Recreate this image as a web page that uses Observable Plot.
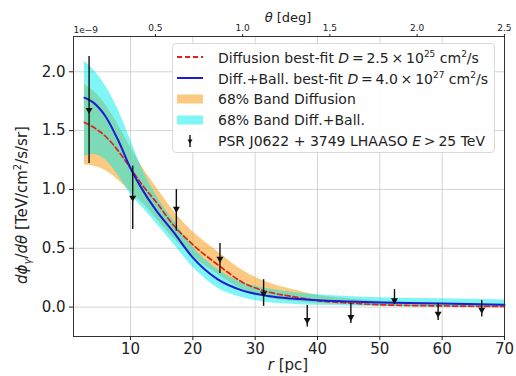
<!DOCTYPE html>
<html>
<head>
<meta charset="utf-8">
<script src="https://cdn.jsdelivr.net/npm/d3@7"></script>
<script src="https://cdn.jsdelivr.net/npm/@observablehq/plot@0.6"></script>
<style>
  html, body { margin: 0; padding: 0; background: #fff; }
  #wrap { position: relative; width: 516px; height: 376px; font-family: "DejaVu Sans", sans-serif; color: #222; }
  #legend { position: absolute; left: 172px; top: 43px; width: 323px; height: 110px; box-sizing: border-box;
            border: 1px solid #d9d9d9; border-radius: 4px; background: rgba(255,255,255,0.88); }
  .row { position: absolute; left: 0; height: 20px; display: flex; align-items: center; font-size: 14px; white-space: nowrap; }
  .row svg { margin-left: 3px; margin-right: 14px; }
  .lbl { position: absolute; white-space: nowrap; color: #222; }
</style>
</head>
<body>
<div id="wrap">
  <div id="chart"></div>
  <div id="legend"></div>
  <div class="lbl" id="ylab" style="left:22px; top:205px; font-size:15px; transform: translate(-50%,-50%) rotate(-90deg);"><i>d</i><i>ϕ</i><sub style="font-size:10px"><i>γ</i></sub>/<i>d</i><i>θ</i> [TeV/cm<sup style="font-size:10px">2</sup>/s/sr]</div>
  <div class="lbl" style="left:288px; top:365px; font-size:15px; transform: translate(-50%,-50%);"><i>r</i> [pc]</div>
  <div class="lbl" style="left:288px; top:17px; font-size:13px; transform: translate(-50%,-50%);"><i>θ</i> [deg]</div>
</div>
<script>
// ---- data ----
const rGrid   = [2.6, 4, 6, 8, 10, 12, 14, 17, 20, 24, 28, 32, 36, 40, 45, 50, 60, 70];
const blueFit = [1.78, 1.74, 1.62, 1.42, 1.18, 0.99, 0.83, 0.63, 0.42, 0.235, 0.14, 0.095, 0.072, 0.058, 0.048, 0.04, 0.03, 0.02];
const redFit  = [1.57, 1.53, 1.45, 1.33, 1.18, 1.03, 0.90, 0.69, 0.53, 0.36, 0.21, 0.13, 0.09, 0.055, 0.035, 0.02, 0.01, 0.005];
const orangeLo = [1.21, 1.20, 1.16, 1.08, 0.98, 0.88, 0.76, 0.58, 0.43, 0.28, 0.15, 0.08, 0.05, 0.03, 0.02, 0.01, 0.0, -0.005];
const orangeHi = [1.89, 1.84, 1.72, 1.55, 1.36, 1.18, 1.03, 0.81, 0.64, 0.47, 0.31, 0.21, 0.15, 0.10, 0.07, 0.05, 0.03, 0.02];
const cyanLo   = [1.28, 1.30, 1.25, 1.12, 0.96, 0.84, 0.72, 0.53, 0.34, 0.16, 0.08, 0.04, 0.025, 0.015, 0.01, 0.005, 0.0, -0.005];
const cyanHi   = [2.09, 2.02, 1.88, 1.68, 1.42, 1.16, 0.96, 0.73, 0.51, 0.32, 0.21, 0.155, 0.125, 0.105, 0.09, 0.08, 0.07, 0.06];

const ptR  = [3.35, 10.35, 17.35, 24.35, 31.35, 38.35, 45.35, 52.35, 59.35, 66.35];
const ptY  = [1.675, 0.93, 0.835, 0.41, 0.115, -0.11, -0.085, 0.057, -0.056, -0.022];
const ptLo = [1.22, 0.66, 0.645, 0.285, 0.006, -0.17, -0.14, 0.03, -0.113, -0.085];
const ptHi = [2.13, 1.20, 1.00, 0.54, 0.233, 0.013, 0.03, 0.15, 0.03, 0.057];

const xTicks = [10, 20, 30, 40, 50, 60, 70];
const yTicks = [0.0, 0.5, 1.0, 1.5, 2.0];
const thetaTicks = [0.5, 1.0, 1.5, 2.0, 2.5];
const distancePc = 1603; // source distance used to convert θ to r

const legendLabels = [
  'Diffusion best-fit <i>D</i>&thinsp;=&thinsp;2.5&thinsp;×&thinsp;10<sup style="font-size:9px">25</sup> cm<sup style="font-size:9px">2</sup>/s',
  'Diff.+Ball. best-fit <i>D</i>&thinsp;=&thinsp;4.0&thinsp;×&thinsp;10<sup style="font-size:9px">27</sup> cm<sup style="font-size:9px">2</sup>/s',
  '68% Band Diffusion',
  '68% Band Diff.+Ball.',
  'PSR J0622 + 3749 LHAASO <i>E</i>&thinsp;&gt;&thinsp;25 TeV'
];

// ---- build tables ----
const curve = rGrid.map((r, i) => ({r, blue: blueFit[i], red: redFit[i], oLo: orangeLo[i], oHi: orangeHi[i], cLo: cyanLo[i], cHi: cyanHi[i]}));
const pts = ptR.map((r, i) => ({r, y: ptY[i], lo: ptLo[i], hi: ptHi[i]}));
const thetaToR = t => distancePc * Math.tan(t * Math.PI / 180);

const RED = "#e0221c", BLUE = "#1c1cd2", ORANGE = "#f9a832", CYAN = "#00ecec";

const chart = Plot.plot({
  width: 516, height: 376,
  marginLeft: 73, marginRight: 12, marginTop: 36, marginBottom: 40,
  style: {fontFamily: "DejaVu Sans", fontSize: "15px", color: "#222", background: "#fff"},
  x: {domain: [0.85, 70]},
  y: {domain: [-0.25, 2.3]},
  marks: [
    Plot.gridX(xTicks, {stroke: "#cfcfcf", strokeOpacity: 1, strokeWidth: 0.9}),
    Plot.gridY(yTicks, {stroke: "#cfcfcf", strokeOpacity: 1, strokeWidth: 0.9}),
    Plot.areaY(curve, {x: "r", y1: "oLo", y2: "oHi", fill: ORANGE, fillOpacity: 0.62, curve: "monotone-x"}),
    Plot.areaY(curve, {x: "r", y1: "cLo", y2: "cHi", fill: CYAN, fillOpacity: 0.5, curve: "monotone-x"}),
    Plot.line(curve, {x: "r", y: "red", stroke: RED, strokeWidth: 1.7, strokeDasharray: "5,3", curve: "monotone-x"}),
    Plot.line(curve, {x: "r", y: "blue", stroke: BLUE, strokeWidth: 2, curve: "monotone-x"}),
    Plot.ruleX(pts, {x: "r", y1: "lo", y2: "hi", stroke: "#111", strokeWidth: 1.4}),
    Plot.dot(pts, {x: "r", y: "y", symbol: "triangle", rotate: 180, r: 2.6, fill: "#111", stroke: "none"}),
    Plot.frame({stroke: "#333", strokeWidth: 1}),
    Plot.axisX({ticks: xTicks, tickSize: 4, tickPadding: 3, label: null, fontSize: 15}),
    Plot.axisY({ticks: yTicks, tickSize: 4, tickPadding: 4, label: null, fontSize: 15, tickFormat: d3.format(".1f")}),
    Plot.axisX({anchor: "top", ticks: thetaTicks.map(thetaToR), tickFormat: (d, i) => d3.format(".1f")(thetaTicks[i]),
                tickSize: 3, tickPadding: 3, label: null, fontSize: 9}),
    Plot.text(["1e\u22129"], {frameAnchor: "top-left", dy: -10, dx: 0, textAnchor: "start", fontSize: 9, fill: "#222"})
  ]
});
document.getElementById("chart").append(chart);

// ---- legend ----
const leg = document.getElementById("legend");
const swatches = [
  `<svg width="28" height="12"><line x1="1" y1="6" x2="27" y2="6" stroke="${RED}" stroke-width="1.8" stroke-dasharray="5,3"/></svg>`,
  `<svg width="28" height="12"><line x1="1" y1="6" x2="27" y2="6" stroke="${BLUE}" stroke-width="2"/></svg>`,
  `<svg width="28" height="12"><rect x="1" y="1.5" width="26" height="9" fill="${ORANGE}" fill-opacity="0.62"/></svg>`,
  `<svg width="28" height="12"><rect x="1" y="1.5" width="26" height="9" fill="${CYAN}" fill-opacity="0.5"/></svg>`,
  `<svg width="28" height="14"><line x1="14" y1="1" x2="14" y2="13" stroke="#111" stroke-width="1.4"/><path d="M11.5,5.5 L16.5,5.5 L14,9.8 Z" fill="#111"/></svg>`
];
const rowTops = [3, 24, 45, 66, 87];
legendLabels.forEach((t, i) => {
  const d = document.createElement("div");
  d.className = "row";
  d.style.top = rowTops[i] + "px";
  d.innerHTML = swatches[i] + `<span>${t}</span>`;
  leg.append(d);
});
</script>
</body>
</html>
